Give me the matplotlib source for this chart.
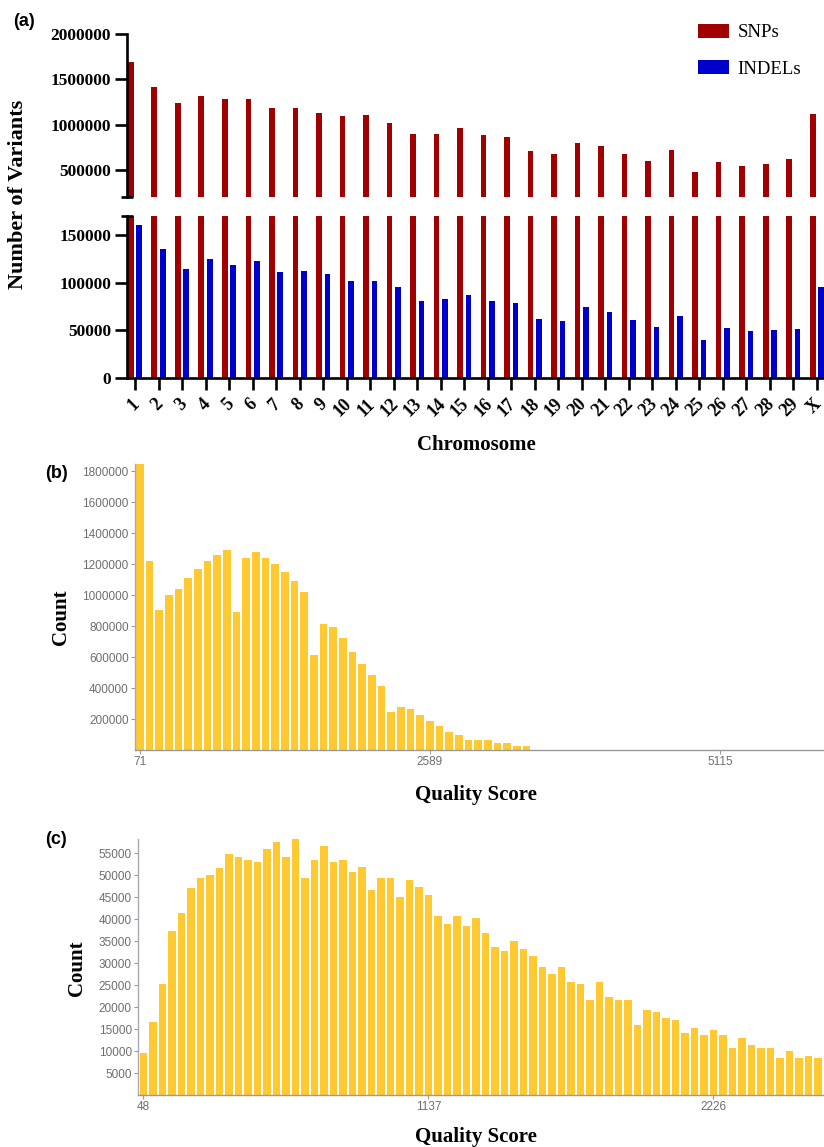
import matplotlib
matplotlib.use('Agg')
import matplotlib.pyplot as plt
import matplotlib.transforms as mtransforms
import numpy as np
from matplotlib.patches import Patch

# ---------------- data ----------------
chromosomes = [str(i) for i in range(1, 30)] + ['X']
snps = [1690000, 1420000, 1240000, 1313000, 1283000, 1280000, 1184000, 1184000,
        1129000, 1092000, 1110000, 1022000, 900000, 900000, 963000, 889000,
        864000, 706000, 680000, 794000, 768000, 673000, 596000, 717000,
        475000, 585000, 544000, 566000, 618000, 1114000]
indels = [161000, 135700, 114000, 124500, 118900, 122700, 111500, 111800,
          109000, 102000, 101600, 95300, 81300, 83400, 86900, 81000,
          78500, 61700, 60300, 74300, 69400, 61300, 53600, 65500,
          39600, 52600, 49400, 50800, 51900, 95300]

snp_quality_counts = [1848000, 1223000, 907000, 999000, 1038000, 1111000, 1167000,
                      1223000, 1260000, 1294000, 889000, 1238000, 1279000, 1238000,
                      1204000, 1148000, 1092000, 1021000, 614000, 816000, 797000,
                      726000, 631000, 558000, 487000, 411000, 245000, 280000,
                      264000, 226000, 190000, 153000, 116000, 97000, 62000,
                      62000, 62000, 43000, 43000, 24000, 24000,
                      0, 0, 0, 0, 0, 0, 0, 0, 0, 0, 0, 0, 0, 0, 0,
                      0, 0, 0, 0, 0, 0, 0, 0, 0, 0, 0, 0, 0, 0, 0]
snp_quality_tick_idx = [0, 30, 60]
snp_quality_tick_labels = ['71', '2589', '5115']

indel_quality_counts = [9530, 16560, 25200, 37400, 41500, 47200, 49500, 50200, 51800, 54800,
                        54200, 53600, 53100, 56000, 57700, 54200, 58300, 49500, 53600, 56600,
                        53100, 53600, 50800, 51900, 46700, 49500, 49500, 45000, 49000, 47300,
                        45500, 40800, 39000, 40800, 38500, 40300, 36800, 33800, 32700, 35000,
                        33300, 31600, 29200, 27500, 29200, 25800, 25200, 21700, 25800, 22300,
                        21700, 21700, 15900, 19300, 18800, 17600, 17100, 14100, 15300, 13600,
                        14700, 13600, 10600, 13000, 11300, 10600, 10600, 8400, 10100, 8400,
                        8900, 8400]
indel_quality_tick_idx = [0, 30, 60]
indel_quality_tick_labels = ['48', '1137', '2226']

top_yticks = [500000, 1000000, 1500000, 2000000]
bottom_yticks = [0, 50000, 100000, 150000]
b_yticks = [200000, 400000, 600000, 800000, 1000000, 1200000, 1400000, 1600000, 1800000]
c_yticks = [5000, 10000, 15000, 20000, 25000, 30000, 35000, 40000, 45000, 50000, 55000]

# ---------------- style ----------------
W, H = 824, 1147
RED = '#A00000'
BLUE = '#0000CC'
GOLD = '#FFC931'
SERIF = ['Liberation Serif', 'DejaVu Serif']
SANS = ['Liberation Sans', 'DejaVu Sans']

fig = plt.figure(figsize=(W / 100, H / 100), dpi=100)


def rect(x0, y0, x1, y1):
    return [x0 / W, 1 - y1 / H, (x1 - x0) / W, (y1 - y0) / H]


def ftext(x, y, s, **kw):
    fig.text(x / W, 1 - y / H, s, **kw)


# ---------------- panel (a) ----------------
ax_top = fig.add_axes(rect(127, 34, 824, 197))
ax_bot = fig.add_axes(rect(127, 216, 824, 378))
x = np.arange(len(chromosomes))
bw = 0.24
off = 0.18
for ax in (ax_top, ax_bot):
    ax.bar(x - off, snps, width=bw, color=RED, label='SNPs')
    ax.bar(x + off, indels, width=bw, color=BLUE, label='INDELs')
    ax.set_xlim(-0.34, 29.3)
    for s in ('top', 'right'):
        ax.spines[s].set_visible(False)
    ax.spines['left'].set_linewidth(1.9)
    ax.spines['bottom'].set_linewidth(1.9)
    ax.tick_params(axis='both', direction='out', length=8.5, width=1.9,
                   labelsize=12.5, pad=3)

ax_top.set_ylim(200000, 2000000)
ax_top.spines['bottom'].set_visible(False)
ax_top.set_xticks([])
ax_top.set_yticks(top_yticks)
ax_top.set_yticklabels([str(v) for v in top_yticks], fontfamily=SERIF, fontweight='bold')
ax_top.set_yticks([200000], minor=True)
ax_top.tick_params(axis='y', which='minor', direction='inout', length=8, width=1.9)

ax_bot.set_ylim(0, 170000)
ax_bot.set_yticks(bottom_yticks)
ax_bot.set_yticklabels([str(v) for v in bottom_yticks], fontfamily=SERIF, fontweight='bold')
ax_bot.set_yticks([170000], minor=True)
ax_bot.tick_params(axis='y', which='minor', direction='inout', length=8, width=1.9)
ax_bot.set_xticks(x)
ax_bot.set_xticklabels(chromosomes, rotation=45, ha='right', va='top',
                       rotation_mode='anchor', fontfamily=SERIF, fontweight='bold',
                       fontsize=13)
ax_bot.tick_params(axis='x', pad=4)
shift = mtransforms.ScaledTranslation(-4 / 100, 0, fig.dpi_scale_trans)
for lab in ax_bot.get_xticklabels():
    lab.set_transform(lab.get_transform() + shift)

ftext(18, 194, 'Number of Variants', rotation=90, ha='center', va='center',
      fontfamily=SERIF, fontweight='bold', fontsize=16)
ftext(476, 445, 'Chromosome', ha='center', va='center',
      fontfamily=SERIF, fontweight='bold', fontsize=15)
ftext(24, 22, '(a)', ha='center', va='center', fontfamily=SANS,
      fontweight='bold', fontsize=13)

handles = [Patch(facecolor=RED, edgecolor='none', label='SNPs'),
           Patch(facecolor=BLUE, edgecolor='none', label='INDELs')]
fig.legend(handles=handles, loc='upper left', bbox_to_anchor=(698 / W, 1 - 24 / H),
           frameon=False, prop={'family': SERIF, 'size': 13.5}, handlelength=1.65,
           handleheight=0.75, handletextpad=0.45, labelspacing=1.0, borderpad=0,
           borderaxespad=0)


# ---------------- panels (b), (c) ----------------
def hist_panel(box, counts, yticks, ylim_top, tick_idx, tick_labels, xlim):
    ax = fig.add_axes(box)
    xi = np.arange(len(counts))
    ax.bar(xi, counts, width=0.8, color=GOLD, edgecolor='none')
    ax.set_xlim(*xlim)
    ax.set_ylim(0, ylim_top)
    ax.set_yticks(yticks)
    ax.set_yticklabels([str(v) for v in yticks])
    ax.set_xticks(tick_idx)
    ax.set_xticklabels(tick_labels)
    for s in ('top', 'right'):
        ax.spines[s].set_visible(False)
    ax.spines['left'].set_color('#A9A9B8')
    ax.spines['left'].set_linewidth(1.0)
    ax.spines['bottom'].set_color('#9A9A9A')
    ax.spines['bottom'].set_linewidth(1.0)
    ax.spines['bottom'].set_linestyle((0, (2.5, 1)))
    ax.tick_params(axis='both', direction='out', length=3, width=0.8,
                   color='#999999', labelcolor='#6E6E6E', labelsize=8.5, pad=1.5)
    for lab in ax.get_xticklabels() + ax.get_yticklabels():
        lab.set_fontfamily(SANS)
    return ax


hist_panel(rect(135, 464, 824, 750), snp_quality_counts, b_yticks, 1848000,
           snp_quality_tick_idx, snp_quality_tick_labels, (-0.5, 70.76))
ftext(57, 473, '(b)', ha='center', va='center', fontfamily=SANS,
      fontweight='bold', fontsize=13)
ftext(61, 617, 'Count', rotation=90, ha='center', va='center',
      fontfamily=SERIF, fontweight='bold', fontsize=15)
ftext(476, 795, 'Quality Score', ha='center', va='center',
      fontfamily=SERIF, fontweight='bold', fontsize=15)

hist_panel(rect(138, 839, 824, 1095), indel_quality_counts, c_yticks, 58300,
           indel_quality_tick_idx, indel_quality_tick_labels, (-0.56, 71.65))
ftext(56, 840, '(c)', ha='center', va='center', fontfamily=SANS,
      fontweight='bold', fontsize=13)
ftext(77, 968, 'Count', rotation=90, ha='center', va='center',
      fontfamily=SERIF, fontweight='bold', fontsize=15)
ftext(476, 1137, 'Quality Score', ha='center', va='center',
      fontfamily=SERIF, fontweight='bold', fontsize=15)

fig.savefig('out.png', dpi=100)
